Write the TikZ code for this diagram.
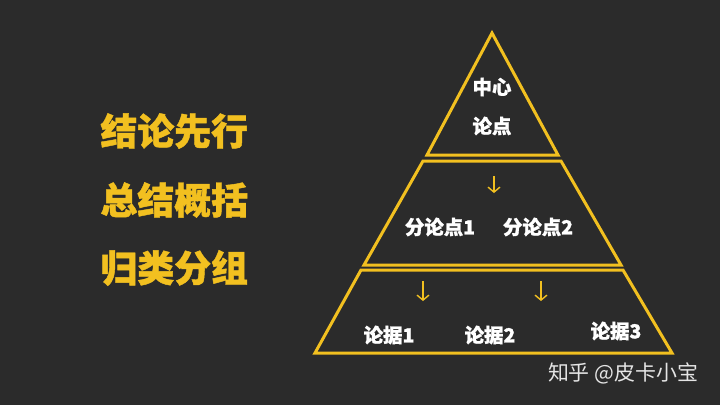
\documentclass[tikz,border=0pt]{standalone}
\usepackage{fontspec}
\usepackage{xcolor}
\newfontfamily\cjk{Noto Sans CJK SC}[BoldFeatures={FakeBold=1.2}]
\definecolor{pyrgold}{HTML}{F2C020}
\definecolor{bgdark}{HTML}{2B2B2B}
\usetikzlibrary{arrows.meta}
\tikzset{
  layer/.style={pyrgold, line width=3bp, line join=miter},
  rule/.style={text=pyrgold, font=\cjk\bfseries\fontsize{37}{42}\selectfont, anchor=west},
  point/.style={text=white, font=\cjk\bfseries\fontsize{19.5}{23}\selectfont},
  down/.style={pyrgold, line width=1.4bp, -{Straight Barb[length=5bp,width=12bp]}}
}
\begin{document}
\begin{tikzpicture}[x=1bp,y=-1bp]
      \fill[bgdark] (0,0) rectangle (720,405);
      % the three layers
      \draw[layer] (492,33)--(558,155)--(427,155)--cycle;
      \draw[layer] (423,161)--(561,161)--(621,265)--(364,265)--cycle;
      \draw[layer] (361,270)--(623,270)--(672,353)--(315,353)--cycle;
      % left side rules
      \node[rule] (rule1) at (97,131) {结论先行};
      \node[rule] (rule2) at (97,200) {总结概括};
      \node[rule] (rule3) at (97,268) {归类分组};
      % texts in the pyramid
      \node[point] (center1) at (492,87) {中心};
      \node[point] (center2) at (492,126) {论点};
      \node[point] (sub1) at (440,227) {分论点1};
      \node[point] (sub2) at (538,227) {分论点2};
      \node[point] (arg1) at (389,335) {论据1};
      \node[point] (arg2) at (490,335) {论据2};
      \node[point] (arg3) at (616,331) {论据3};
      % arrows
      \coordinate (a1s) at (494,176);
      \coordinate (a1e) at (494,193);
      \coordinate (a2s) at (423,281);
      \coordinate (a2e) at (423,301);
      \coordinate (a3s) at (541,281);
      \coordinate (a3e) at (541,301);
      \foreach \s/\e in {a1s/a1e, a2s/a2e, a3s/a3e}
        {
          \draw[down] (\s) -- (\e);
        }
      \node[text=white!90!black, font=\cjk\fontsize{21}{24}\selectfont] (mark) at (623,373) {知乎 @皮卡小宝};
    \end{tikzpicture}
\end{document}
